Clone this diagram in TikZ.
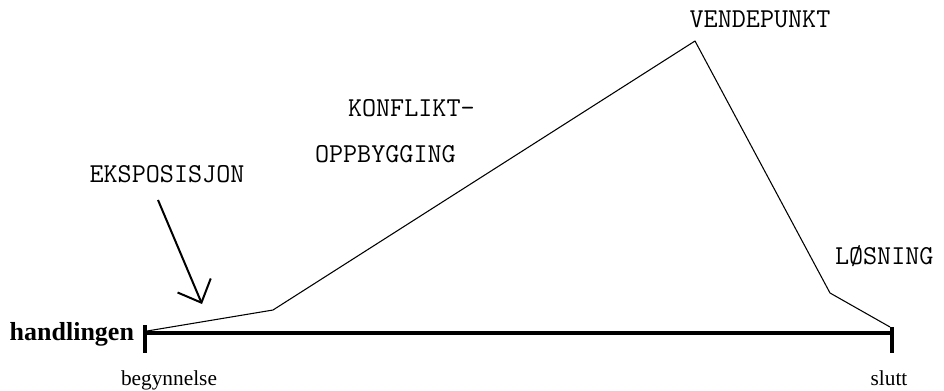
\documentclass[tikz,border=0pt]{standalone}
\usepackage{fontspec}
\setmainfont{Liberation Serif}
\usetikzlibrary{arrows.meta, positioning}

\begin{document}
\begin{tikzpicture}[
    x=0.75pt, y=-0.75pt,
    every node/.style={inner sep=0pt, outer sep=0pt},
    phaselabel/.style={font=\fontsize{20.5}{24}\selectfont\ttfamily, anchor=base},
    endlabel/.style={font=\fontsize{16}{19}\selectfont, anchor=base},
    axisline/.style={line width=3pt},
    tickline/.style={line width=3pt},
    curveline/.style={line width=0.8pt, line join=round},
    pointer/.style={line width=1.5pt, -{Straight Barb[length=14pt, width=27pt]}},
]
\useasboundingbox (0,0) rectangle (944,391);
% time axis
\coordinate (axstart) at (145,332.5);
\coordinate (axend) at (892,332.5);
\coordinate (ltop) at (145,325);
\coordinate (lbot) at (145,353);
\coordinate (rtop) at (892,327);
\coordinate (rbot) at (892,353);
\draw[axisline] (axstart) -- (axend);
\draw[tickline] (ltop) -- (lbot);
\draw[tickline] (rtop) -- (rbot);
\node[font=\fontsize{19.5}{23}\selectfont\bfseries, anchor=base east] (handling) at (134,340) {handlingen};
\node[endlabel] (start) at (169,385) {begynnelse};
\node[endlabel] (end) at (889,385) {slutt};
% plot of the action
\coordinate (pA) at (147,331);
\coordinate (pB) at (273,310);
\coordinate (pC) at (695,41);
\coordinate (pD) at (830,293);
\coordinate (pE) at (890,327);
\draw[curveline] (pA) -- (pB) -- (pC) -- (pD) -- (pE);
% phase labels
\node[phaselabel] (expo) at (167,183) {EKSPOSISJON};
\node[phaselabel, anchor=base west] (konflikt) at (348,117) {KONFLIKT-};
\node[phaselabel, anchor=base west] (oppbygging) at (315,163) {OPPBYGGING};
\node[phaselabel] (vende) at (760,28) {VENDEPUNKT};
\node[phaselabel, anchor=base west] (losning) at (835,265) {LØSNING};
\coordinate (exptail) at (158,200);
\coordinate (exptip) at (202,304);
\draw[pointer] (exptail) -- (exptip);
\end{tikzpicture}
\end{document}
